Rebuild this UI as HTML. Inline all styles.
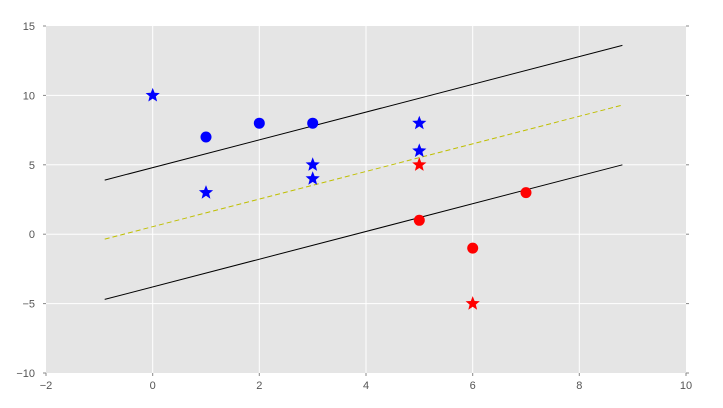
<!DOCTYPE html>
<html><head><style>body{margin:0;background:#fff}svg{display:block}text{font-family:"Liberation Sans",sans-serif;font-size:11px;fill:#555}</style></head>
<body>
<svg width="723" height="408" viewBox="0 0 723 408">
<defs><polygon id="s" points="0,-7.5 1.9,-2.6 7.1,-2.3 3.1,1 4.4,6.1 0,3.2 -4.4,6.1 -3.1,1 -7.1,-2.3 -1.9,-2.6"/></defs>
<rect x="46" y="26" width="640" height="347" fill="#e5e5e5"/>
<g stroke="#fff" stroke-width="1">
<line x1="152.7" y1="26" x2="152.7" y2="373"/><line x1="259.3" y1="26" x2="259.3" y2="373"/><line x1="366" y1="26" x2="366" y2="373"/><line x1="472.7" y1="26" x2="472.7" y2="373"/><line x1="579.3" y1="26" x2="579.3" y2="373"/>
<line x1="46" y1="95.4" x2="686" y2="95.4"/><line x1="46" y1="164.8" x2="686" y2="164.8"/><line x1="46" y1="234.2" x2="686" y2="234.2"/><line x1="46" y1="303.6" x2="686" y2="303.6"/>
</g>
<g stroke="#888" stroke-width="1">
<line x1="46" y1="373" x2="46" y2="376"/><line x1="152.7" y1="373" x2="152.7" y2="376"/><line x1="259.3" y1="373" x2="259.3" y2="376"/><line x1="366" y1="373" x2="366" y2="376"/><line x1="472.7" y1="373" x2="472.7" y2="376"/><line x1="579.3" y1="373" x2="579.3" y2="376"/><line x1="686" y1="373" x2="686" y2="376"/>
<line x1="43" y1="26" x2="46" y2="26"/><line x1="43" y1="95.4" x2="46" y2="95.4"/><line x1="43" y1="164.8" x2="46" y2="164.8"/><line x1="43" y1="234.2" x2="46" y2="234.2"/><line x1="43" y1="303.6" x2="46" y2="303.6"/><line x1="43" y1="373" x2="46" y2="373"/>
<line x1="686" y1="26" x2="689" y2="26"/><line x1="686" y1="95.4" x2="689" y2="95.4"/><line x1="686" y1="164.8" x2="689" y2="164.8"/><line x1="686" y1="234.2" x2="689" y2="234.2"/><line x1="686" y1="303.6" x2="689" y2="303.6"/><line x1="686" y1="373" x2="689" y2="373"/>
</g>
<g text-anchor="middle">
<text x="46" y="389">−2</text><text x="152.7" y="389">0</text><text x="259.3" y="389">2</text><text x="366" y="389">4</text><text x="472.7" y="389">6</text><text x="579.3" y="389">8</text><text x="686" y="389">10</text>
</g>
<g text-anchor="end">
<text x="35" y="30">15</text><text x="35" y="99.4">10</text><text x="35" y="168.8">5</text><text x="35" y="238.2">0</text><text x="35" y="307.6">−5</text><text x="35" y="377">−10</text>
</g>
<line x1="104.7" y1="180.1" x2="622.4" y2="45.4" stroke="#000" stroke-width="1"/>
<line x1="104.7" y1="299.4" x2="622.4" y2="164.8" stroke="#000" stroke-width="1"/>
<line x1="104.7" y1="239.1" x2="622.4" y2="105.1" stroke="#bfbf00" stroke-width="1" stroke-dasharray="5,3"/>
<g fill="#0000ff">
<circle cx="206" cy="137" r="5.5"/><circle cx="259.3" cy="123.2" r="5.5"/><circle cx="312.7" cy="123.2" r="5.5"/>
<use href="#s" x="152.7" y="95.4"/><use href="#s" x="206" y="192.6"/><use href="#s" x="312.7" y="164.8"/><use href="#s" x="312.7" y="178.7"/><use href="#s" x="419.3" y="123.2"/><use href="#s" x="419.3" y="150.9"/>
</g>
<g fill="#ff0000">
<circle cx="419.3" cy="220.3" r="5.5"/><circle cx="472.7" cy="248.1" r="5.5"/><circle cx="526" cy="192.6" r="5.5"/>
<use href="#s" x="419.3" y="164.8"/><use href="#s" x="472.7" y="303.6"/>
</g>
</svg>
</body></html>
